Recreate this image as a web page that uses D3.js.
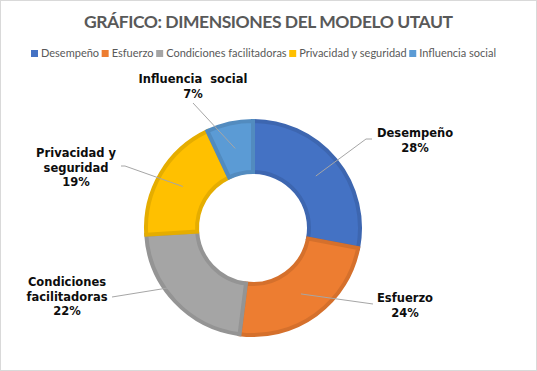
<!DOCTYPE html>
<html>
<head>
<meta charset="utf-8">
<script src="https://cdn.jsdelivr.net/npm/d3@7"></script>
<style>
  body { margin: 0; background: #fff; }
  svg { display: block; }
</style>
</head>
<body>
<svg class="svg"></svg>
<script>
const categories = ['Desempeño', 'Esfuerzo', 'Condiciones facilitadoras', 'Privacidad y seguridad', 'Influencia social'];
const values = [28, 24, 22, 19, 7];
const colors = ['#4472C4', '#ED7D31', '#A5A5A5', '#FFC000', '#5B9BD5'];
// data label lines as drawn in the picture
const labelLines = [
    ['Desempeño'],
    ['Esfuerzo'],
    ['Condiciones', 'facilitadoras'],
    ['Privacidad y', 'seguridad'],
    ['Influencia  social']
];

function drawDonut () {
    const width = 537;
    const height = 371;
    const cx = 253;
    const cy = 228;

    const svg = d3.select('.svg')
        .attr('width', width)
        .attr('height', height);

    svg.append('rect')
        .attr('x', 0.5).attr('y', 0.5)
        .attr('width', width - 1).attr('height', height - 1)
        .attr('fill', '#fff')
        .attr('stroke', '#D9D9D9');

    /* TITLE */
    const title = svg.append('text')
        .attr('x', width / 2)
        .attr('y', 28)
        .attr('text-anchor', 'middle')
        .style('font-family', 'Lato, sans-serif')
        .style('font-weight', 'bold')
        .style('font-size', '17.5px')
        .style('fill', '#595959')
        .text('GRÁFICO: DIMENSIONES DEL MODELO UTAUT');
    const tw = title.node().getComputedTextLength();
    const ls = (369 - tw) / 36;
    title.style('letter-spacing', `${ls}px`).attr('x', width / 2 + ls / 2);

    /* LEGEND */
    const legend = svg.append('g').attr('class', 'legend');
    const items = legend.selectAll('g')
        .data(categories).enter()
        .append('g');
    items.append('rect')
        .attr('width', 7).attr('height', 7)
        .attr('y', 50)
        .attr('fill', (d, i) => colors[i]);
    items.append('text')
        .attr('x', 10)
        .attr('y', 57)
        .style('font-family', 'Lato, sans-serif')
        .style('font-size', '11px')
        .style('fill', '#595959')
        .text(d => d);
    const widths = items.select('text').nodes().map(n => n.getComputedTextLength() + 10);
    const gap = (465 - d3.sum(widths)) / (widths.length - 1);
    let x0 = 31;
    items.attr('transform', (d, i) => {
        const t = `translate(${x0}, 0)`;
        x0 += widths[i] + gap;
        return t;
    });

    /* DONUT */
    const pie = d3.pie().sort(null).value(d => d);
    const arc = d3.arc().innerRadius(56).outerRadius(107);
    const arcs = pie(values);

    const g = svg.append('g').attr('transform', `translate(${cx}, ${cy})`);
    g.selectAll('path')
        .data(arcs).enter()
        .append('path')
        .attr('d', arc)
        .attr('fill', (d, i) => colors[i])
        .attr('stroke', (d, i) => d3.color(colors[i]).darker(0.3))
        .attr('stroke-width', 4)
        .attr('stroke-linejoin', 'miter');

    /* LABELS */
    const labelPos = [
        { x: 415, y: 137, line: [[366, 139], [372, 139]] },
        { x: 405, y: 302, line: [[373, 304]] },
        { x: 67, y: 286, line: [[112, 297]] },
        { x: 76, y: 157, line: [[125, 166], [121, 166]] },
        { x: 193, y: 83, line: [[193, 103]] }
    ];

    arcs.forEach((a, i) => {
        const c = arc.centroid(a);
        const pts = [[cx + c[0], cy + c[1]]].concat(labelPos[i].line);
        svg.append('path')
            .attr('d', d3.line()(pts))
            .attr('fill', 'none')
            .attr('stroke', '#A6A6A6')
            .attr('stroke-width', 1);
    });

    arcs.forEach((a, i) => {
        const pct = Math.round(a.value / d3.sum(values) * 100) + '%';
        const lines = labelLines[i].concat([pct]);
        const t = svg.append('text')
            .attr('text-anchor', 'middle')
            .style('font-family', '"DejaVu Sans", Verdana, sans-serif')
            .style('font-weight', 'bold')
            .style('font-size', '11.5px')
            .style('fill', '#0D0D0D')
            .style('white-space', 'pre');
        lines.forEach((l, j) => {
            t.append('tspan')
                .attr('x', labelPos[i].x)
                .attr('y', labelPos[i].y + j * 14.5)
                .text(l);
        });
    });
}

document.addEventListener('DOMContentLoaded', () => drawDonut());
</script>
</body>
</html>
